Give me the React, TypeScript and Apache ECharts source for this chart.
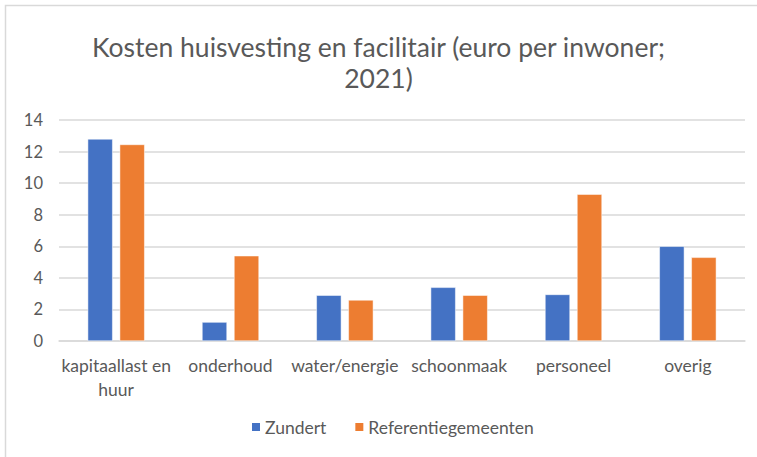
import React, { useEffect, useRef } from "react";
import * as echarts from "echarts";

const categories = ["kapitaallast en huur", "onderhoud", "water/energie", "schoonmaak", "personeel", "overig"];
const zundert = [12.8, 1.2, 2.9, 3.4, 2.95, 6.0];
const referentie = [12.45, 5.4, 2.6, 2.9, 9.3, 5.3];
const seriesNames = ["Zundert", "Referentiegemeenten"];
const titleText = "Kosten huisvesting en facilitair (euro per inwoner;\n2021)";

const FONT = "Lato, 'Open Sans', sans-serif";
const TXT = "#595959";

export default function App() {
  const ref = useRef<HTMLDivElement>(null);
  useEffect(() => {
    if (!ref.current) return;
    const chart = echarts.init(ref.current, null, { renderer: "svg" });
    chart.setOption({
      animation: false,
      backgroundColor: "#fff",
      graphic: [
        {
          type: "rect",
          shape: { x: 5.5, y: 5.5, width: 800, height: 500 },
          style: { fill: "none", stroke: "#d9d9d9", lineWidth: 1.5 },
          silent: true,
        },
      ],
      title: {
        text: titleText,
        left: "center",
        top: 26,
        textStyle: {
          fontFamily: FONT,
          fontSize: 26.5,
          fontWeight: "normal",
          color: TXT,
          lineHeight: 31,
        },
      },
      legend: {
        data: seriesNames,
        bottom: 16,
        left: 245,
        itemWidth: 10,
        itemHeight: 10,
        itemGap: 27,
        icon: "rect",
        textStyle: { fontFamily: FONT, fontSize: 17.5, color: TXT, padding: [0, 0, 0, -1] },
      },
      grid: { left: 59, right: 12, top: 120, bottom: 116 },
      xAxis: {
        type: "category",
        data: categories,
        axisLine: { show: true, lineStyle: { color: "#d9d9d9", width: 1.5 } },
        axisTick: { show: false },
        axisLabel: {
          interval: 0,
          fontFamily: FONT,
          fontSize: 17.5,
          color: TXT,
          margin: 12,
          lineHeight: 24,
          formatter: (v: string) => (v === "kapitaallast en huur" ? "kapitaallast en\nhuur" : v),
        },
      },
      yAxis: {
        type: "value",
        min: 0,
        max: 14,
        interval: 2,
        axisLine: { show: false },
        axisTick: { show: false },
        splitLine: { lineStyle: { color: "#d9d9d9", width: 1.5 } },
        axisLabel: { fontFamily: FONT, fontSize: 16.5, color: TXT, margin: 16 },
      },
      series: [
        {
          name: seriesNames[0],
          type: "bar",
          data: zundert,
          barWidth: 25,
          barGap: "28%",
          itemStyle: { color: "#4472C4", borderColor: "#ffffff", borderWidth: 0.5 },
        },
        {
          name: seriesNames[1],
          type: "bar",
          data: referentie,
          barWidth: 25,
          itemStyle: { color: "#ED7D31", borderColor: "#ffffff", borderWidth: 0.5 },
        },
      ],
    });
    return () => chart.dispose();
  }, []);
  return <div ref={ref} style={{ width: 757, height: 457, position: "absolute", left: 0, top: 0 }} />;
}
